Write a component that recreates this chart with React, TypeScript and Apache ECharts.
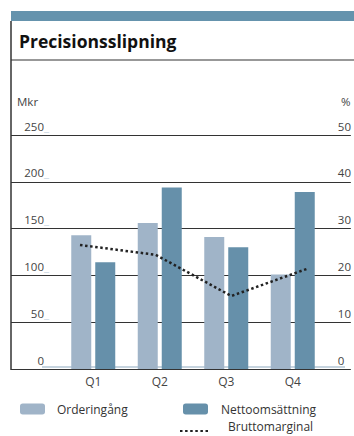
import React, { useEffect, useRef } from "react";
import * as echarts from "echarts";

// Quarterly figures for the segment
const quarters = ["Q1", "Q2", "Q3", "Q4"];
const orderingang = [143, 156, 141, 101]; // Mkr
const nettoomsattning = [114, 194, 130, 189]; // Mkr
const bruttomarginal = [26.5, 24.4, 15.6, 21.4]; // %

// Axis ranges
const mkrMin = 0;
const mkrMax = 250;
const mkrStep = 50;
const pctMin = 0;
const pctMax = 50;
const pctStep = 10;

const FONT = "'Open Sans', 'Noto Sans', sans-serif";
const LIGHT = "#a0b4c8";
const DARK = "#6690aa";
const BAND = "#6593ad";
const GRID_LINE = "#333333";
const LABEL = "#444444";

export default function App() {
  const ref = useRef<HTMLDivElement>(null);

  useEffect(() => {
    if (!ref.current) return;
    const chart = echarts.init(ref.current, undefined, { renderer: "svg" });

    const plotTop = 135;
    const plotBottom = 67;

    chart.setOption({
      animation: false,
      backgroundColor: "#ffffff",
      textStyle: { fontFamily: FONT },
      title: {
        text: "Precisionsslipning",
        left: 19,
        top: 32,
        padding: 0,
        textStyle: { fontFamily: FONT, fontSize: 17.5, fontWeight: "bold", color: "#111111" },
      },
      legend: [
        {
          data: ["Orderingång"],
          left: 20,
          top: 402,
          padding: 0,
          itemWidth: 25,
          itemHeight: 11,
          textStyle: { fontFamily: FONT, fontSize: 12, color: "#333", lineHeight: 14, padding: [0, 0, 0, 7] },
        },
        {
          data: ["Nettoomsättning"],
          left: 183,
          top: 402,
          padding: 0,
          itemWidth: 25,
          itemHeight: 11,
          textStyle: { fontFamily: FONT, fontSize: 12, color: "#333", lineHeight: 14, padding: [0, 0, 0, 8] },
        },
        {
          // dotted key sits on the text baseline: an empty second line lifts the name
          data: ["Bruttomarginal"],
          left: 179,
          top: 420,
          padding: 0,
          itemWidth: 30,
          itemHeight: 11,
          itemStyle: { opacity: 0 },
          formatter: "{a|{name}}\n{b| }",
          textStyle: {
            fontFamily: FONT,
            padding: [0, 0, 0, 13],
            rich: {
              a: { fontFamily: FONT, fontSize: 12, color: "#333", lineHeight: 14 },
              b: { fontSize: 1, lineHeight: 10 },
            },
          },
        },
      ],
      grid: [
        { left: 11, right: 0, top: plotTop, bottom: plotBottom },
        { left: 60, right: 28, top: plotTop, bottom: plotBottom },
        { left: 80, right: 47, top: plotTop, bottom: plotBottom },
      ],
      xAxis: [
        { gridIndex: 0, type: "value", min: 0, max: 1, show: false },
        {
          gridIndex: 1,
          type: "category",
          data: quarters,
          axisLine: { show: false },
          axisTick: { show: false },
          axisLabel: { margin: 6, fontSize: 12, color: LABEL, fontFamily: FONT },
        },
        { gridIndex: 2, type: "category", data: quarters, boundaryGap: false, show: false },
      ],
      yAxis: [
        {
          gridIndex: 0,
          type: "value",
          min: mkrMin,
          max: mkrMax,
          interval: mkrStep,
          offset: -39,
          axisLine: { show: false },
          axisTick: { show: false },
          splitLine: { show: true, lineStyle: { color: GRID_LINE, width: 1 } },
          axisLabel: {
            margin: 1,
            verticalAlign: "bottom",
            lineHeight: 14,
            padding: [0, 0, 2, 0],
            formatter: (v: number) => `{n|${v}}{u|_}`,
            rich: {
              n: { fontSize: 11.5, color: LABEL, fontFamily: FONT, lineHeight: 14 },
              u: { fontSize: 11.5, color: "#c6d4df", fontFamily: FONT, lineHeight: 14 },
            },
          },
        },
        {
          gridIndex: 0,
          type: "value",
          position: "right",
          min: pctMin,
          max: pctMax,
          interval: pctStep,
          offset: -13,
          axisLine: { show: false },
          axisTick: { show: false },
          splitLine: { show: false },
          axisLabel: {
            margin: 0,
            align: "left",
            verticalAlign: "bottom",
            lineHeight: 14,
            padding: [0, 0, 2, 0],
            fontSize: 11.5,
            color: LABEL,
            fontFamily: FONT,
          },
        },
        { gridIndex: 1, type: "value", min: mkrMin, max: mkrMax, show: false },
        { gridIndex: 2, type: "value", min: pctMin, max: pctMax, show: false },
      ],
      series: [
        {
          name: "Orderingång",
          type: "bar",
          xAxisIndex: 1,
          yAxisIndex: 2,
          data: orderingang,
          barWidth: 20,
          barGap: "20%",
          itemStyle: { color: LIGHT },
        },
        {
          name: "Nettoomsättning",
          type: "bar",
          xAxisIndex: 1,
          yAxisIndex: 2,
          data: nettoomsattning,
          barWidth: 20,
          barGap: "20%",
          itemStyle: { color: DARK },
        },
        {
          name: "Bruttomarginal",
          type: "line",
          xAxisIndex: 2,
          yAxisIndex: 3,
          data: bruttomarginal,
          symbol: "none",
          z: 5,
          itemStyle: { color: "#222222" },
          lineStyle: { color: "#222222", width: 2.5, type: [2.5, 2.6], cap: "butt" },
        },
      ],
      graphic: [
        { type: "rect", shape: { x: 11, y: 11, width: 343, height: 10 }, style: { fill: BAND }, z: 0 },
        { type: "line", shape: { x1: 11, y1: 60, x2: 354, y2: 60 }, style: { stroke: GRID_LINE, lineWidth: 1.2 }, z: 0 },
        { type: "line", shape: { x1: 11, y1: 21, x2: 11, y2: 370 }, style: { stroke: GRID_LINE, lineWidth: 1.5 }, z: 0 },
        { type: "line", shape: { x1: 42, y1: 367, x2: 345, y2: 367 }, style: { stroke: "#c6d4df", lineWidth: 2 }, z: 0 },
        {
          type: "text",
          x: 17,
          y: 101,
          style: { text: "Mkr", fill: LABEL, font: `11.5px ${FONT}`, verticalAlign: "middle" },
        },
        {
          type: "text",
          x: 341,
          y: 101,
          style: { text: "%", fill: LABEL, font: `11.5px ${FONT}`, verticalAlign: "middle" },
        },
      ],
    });

    return () => chart.dispose();
  }, []);

  return (
    <div
      ref={ref}
      style={{ position: "fixed", left: 0, top: 0, width: 354, height: 436, background: "#fff" }}
    />
  );
}
